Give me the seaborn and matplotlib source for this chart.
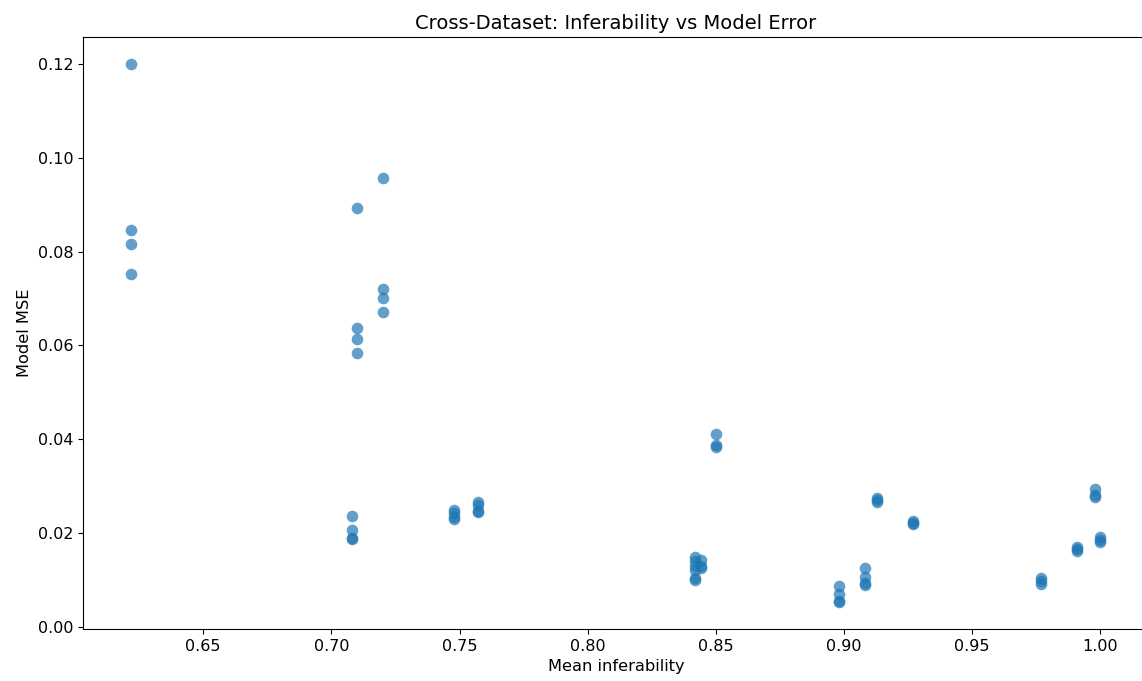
import matplotlib
matplotlib.use("Agg")
import matplotlib.pyplot as plt
import seaborn as sns
import pandas as pd

inferability = [
    0.622, 0.622, 0.622, 0.622,
    0.710, 0.710, 0.710, 0.710,
    0.720, 0.720, 0.720, 0.720,
    0.708, 0.708, 0.708, 0.708,
    0.748, 0.748, 0.748, 0.748,
    0.757, 0.757, 0.757, 0.757,
    0.842, 0.842, 0.842, 0.842, 0.842, 0.842,
    0.844, 0.844, 0.844,
    0.850, 0.850, 0.850,
    0.898, 0.898, 0.898, 0.898,
    0.908, 0.908, 0.908, 0.908,
    0.913, 0.913, 0.913,
    0.927, 0.927, 0.927,
    0.977, 0.977, 0.977,
    0.991, 0.991, 0.991,
    0.998, 0.998, 0.998,
    1.000, 1.000, 1.000,
]
model_mse = [
    0.1200, 0.0846, 0.0816, 0.0752,
    0.0893, 0.0637, 0.0614, 0.0584,
    0.0957, 0.0720, 0.0701, 0.0671,
    0.0237, 0.0207, 0.0190, 0.0188,
    0.0249, 0.0243, 0.0234, 0.0230,
    0.0266, 0.0260, 0.0247, 0.0245,
    0.0149, 0.0141, 0.0130, 0.0121, 0.0104, 0.0100,
    0.0143, 0.0130, 0.0126,
    0.0411, 0.0388, 0.0384,
    0.0087, 0.0070, 0.0055, 0.0053,
    0.0126, 0.0107, 0.0094, 0.0090,
    0.0275, 0.0271, 0.0266,
    0.0226, 0.0222, 0.0220,
    0.0104, 0.0098, 0.0092,
    0.0171, 0.0166, 0.0162,
    0.0294, 0.0281, 0.0277,
    0.0192, 0.0185, 0.0181,
]

df = pd.DataFrame({"inf": inferability, "mse": model_mse})

fig, ax = plt.subplots(figsize=(11.42, 6.81), dpi=100)
fig.subplots_adjust(left=0.0727, right=1.006, top=0.9457, bottom=0.0764)
sns.scatterplot(data=df, x="inf", y="mse", ax=ax, color="#1f77b4",
                alpha=0.7, s=70, linewidth=0)
ax.set_title("Cross-Dataset: Inferability vs Model Error", fontsize=14)
ax.set_xlabel("Mean inferability", fontsize=11.7)
ax.set_ylabel("Model MSE", fontsize=11.7)
ax.tick_params(labelsize=11.5)
fig.savefig("out.png", dpi=100)
